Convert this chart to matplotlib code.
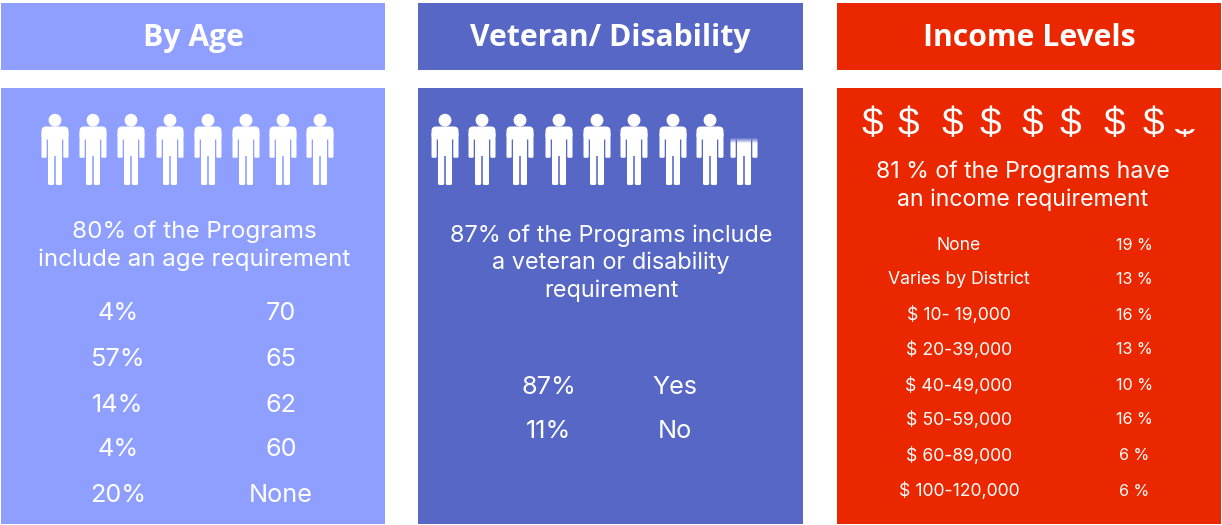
import matplotlib
matplotlib.use("Agg")
import matplotlib.pyplot as plt
from matplotlib.patches import Rectangle, Circle, FancyBboxPatch

age_share = ["4%", "57%", "14%", "4%", "20%"]
age_group = ["70", "65", "62", "60", "None"]
vet_share = ["87%", "11%"]
vet_answer = ["Yes", "No"]
income_band = ["None", "Varies by District", "$ 10- 19,000", "$ 20-39,000", "$ 40-49,000",
               "$ 50-59,000", "$ 60-89,000", "$ 100-120,000"]
income_share = ["19 %", "13 %", "16 %", "13 %", "10 %", "16 %", "6 %", "6 %"]

LIGHT = "#8f9fff"
BLUE = "#5767c5"
RED = "#eb2700"
BODY_FONT = "Inter"
TITLE_FONT = "Open Sans"

fig = plt.figure(figsize=(12.22, 5.25), dpi=100)
ax = fig.add_axes([0, 0, 1, 1])
ax.set_xlim(0, 1222)
ax.set_ylim(525, 0)
ax.axis("off")


def panel(x0, x1, color, title):
    ax.add_patch(Rectangle((x0, 3), x1 - x0, 67, color=color, lw=0))
    ax.add_patch(Rectangle((x0, 88), x1 - x0, 436, color=color, lw=0))
    ax.text((x0 + x1) / 2, 38, title, color="white", fontsize=21.7, fontweight="bold",
            family=TITLE_FONT, ha="center", va="center")


def person(cx, clip=None):
    parts = [
        Circle((cx, 120.2), 6.4),
        # shoulders
        FancyBboxPatch((cx - 9, 131), 18, 4, boxstyle="round,pad=4.5,rounding_size=4.5", lw=0),
        # torso
        Rectangle((cx - 6.8, 130), 13.6, 26, lw=0),
        # arms
        FancyBboxPatch((cx - 12.2, 134), 2.6, 22.5, boxstyle="round,pad=1.3", lw=0),
        FancyBboxPatch((cx + 9.6, 134), 2.6, 22.5, boxstyle="round,pad=1.3", lw=0),
        # legs
        FancyBboxPatch((cx - 5.4, 152), 3, 31.4, boxstyle="round,pad=1.6", lw=0),
        FancyBboxPatch((cx + 2.4, 152), 3, 31.4, boxstyle="round,pad=1.6", lw=0),
    ]
    for p in parts:
        p.set_facecolor("white")
        ax.add_patch(p)
        if clip is not None:
            p.set_clip_path(clip)


def centered(x, y, s, size):
    ax.text(x, y, s, color="white", fontsize=size, family=BODY_FONT, ha="center", va="center",
            linespacing=1.29)


panel(1, 385, LIGHT, "By Age")
panel(418, 803, BLUE, "Veteran/ Disability")
panel(837, 1221, RED, "Income Levels")

# people row, first panel
for cx in [55, 93, 131, 170, 208, 246, 283, 320]:
    person(cx)

centered(194, 246, "80% of the Programs\ninclude an age requirement", 17.4)
for y, share, group in zip([314, 359, 405, 450, 495], age_share, age_group):
    centered(118, y, share, 18.2)
    centered(281, y, group, 18.2)

# people row, second panel: the last figure is only partly filled
for cx in [445, 482, 520, 559, 597, 634, 673, 710]:
    person(cx)
partial = Rectangle((720, 138), 50, 52, transform=ax.transData)
person(744, clip=partial)
for i in range(5):
    ax.add_patch(Rectangle((726, 138 + i), 36, 1, color=BLUE, lw=0, alpha=0.85 - i * 0.18))

centered(611, 263, "87% of the Programs include\na veteran or disability\nrequirement", 16.9)
for y, share, answer in zip([387, 432], vet_share, vet_answer):
    centered(549, y, share, 18.2)
    centered(675, y, answer, 18.2)

# dollar row, third panel
for cx in [872, 908, 952, 990, 1032, 1070, 1114, 1153]:
    ax.text(cx, 125, "$", color="white", fontsize=28, family="Liberation Sans",
            ha="center", va="center")
last = ax.text(1184, 125, "$", color="white", fontsize=28, family="Liberation Sans",
               ha="center", va="center", clip_on=True)
last.set_clip_path(Rectangle((1170, 129), 30, 20, transform=ax.transData))

centered(1023, 186, "81 % of the Programs have\nan income requirement", 16.6)
for y, band, share in zip([245, 279, 315, 350, 386, 420, 456, 491], income_band, income_share):
    centered(959, y, band.replace("$", r"\$"), 12.7)
    centered(1134, y, share, 11.6)

fig.savefig("out.png", dpi=100, facecolor="white")
